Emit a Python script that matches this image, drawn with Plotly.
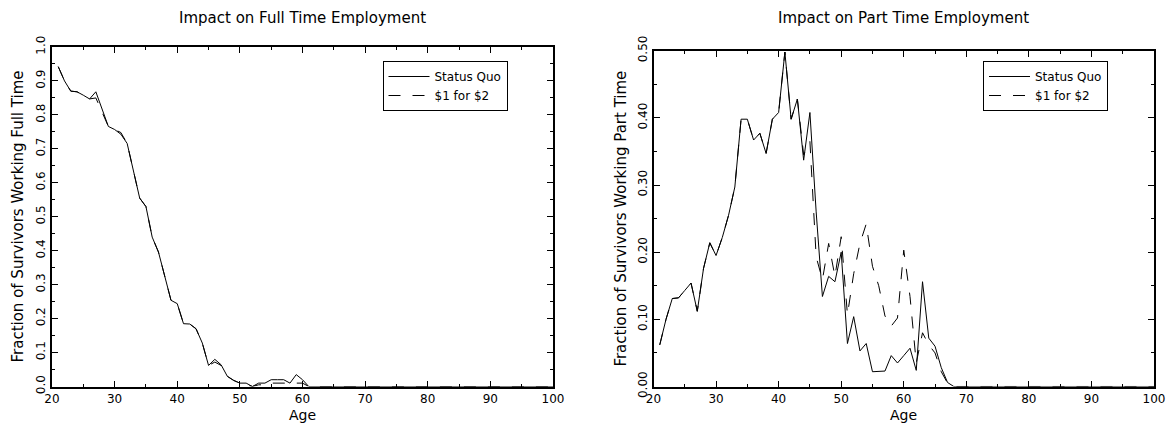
import plotly.graph_objects as go

ages = list(range(21, 101))

full_sq_head = [0.942, 0.900, 0.870, 0.868, 0.858, 0.847, 0.868, 0.815, 0.766, 0.757,
                0.743, 0.716, 0.636, 0.555, 0.530, 0.440, 0.396, 0.322, 0.254, 0.244,
                0.185, 0.184, 0.170, 0.128, 0.062, 0.080, 0.064, 0.030, 0.018, 0.010,
                0.010, 0.000, 0.010, 0.010, 0.020, 0.020, 0.020, 0.010, 0.035, 0.020,
                0.000]
full_alt_head = [0.942, 0.900, 0.870, 0.868, 0.858, 0.847, 0.850, 0.810, 0.766, 0.757,
                 0.748, 0.716, 0.636, 0.555, 0.530, 0.440, 0.396, 0.322, 0.254, 0.244,
                 0.185, 0.184, 0.170, 0.128, 0.062, 0.072, 0.062, 0.030, 0.018, 0.010,
                 0.005, 0.000, 0.005, 0.005, 0.010, 0.010, 0.010, 0.010, 0.010, 0.010,
                 0.000]
part_sq_head = [0.062, 0.100, 0.131, 0.132, 0.143, 0.154, 0.112, 0.176, 0.214, 0.195,
                0.222, 0.255, 0.297, 0.398, 0.398, 0.367, 0.377, 0.347, 0.398, 0.408,
                0.498, 0.398, 0.428, 0.337, 0.408, 0.260, 0.134, 0.164, 0.156, 0.200,
                0.064, 0.104, 0.053, 0.064, 0.022, 0.022, 0.023, 0.046, 0.035, 0.046,
                0.057, 0.024, 0.156, 0.072, 0.060, 0.028, 0.006, 0.000]
part_alt_head = [0.062, 0.100, 0.131, 0.132, 0.143, 0.154, 0.112, 0.176, 0.214, 0.195,
                 0.222, 0.255, 0.297, 0.398, 0.398, 0.367, 0.377, 0.347, 0.398, 0.408,
                 0.498, 0.398, 0.428, 0.345, 0.365, 0.193, 0.159, 0.213, 0.164, 0.223,
                 0.107, 0.168, 0.213, 0.242, 0.179, 0.150, 0.105, 0.090, 0.102, 0.203,
                 0.134, 0.035, 0.080, 0.062, 0.050, 0.022, 0.005, 0.000]

full_sq = full_sq_head + [0.0] * (len(ages) - len(full_sq_head))
full_alt = full_alt_head + [0.0] * (len(ages) - len(full_alt_head))
part_sq = part_sq_head + [0.0] * (len(ages) - len(part_sq_head))
part_alt = part_alt_head + [0.0] * (len(ages) - len(part_alt_head))

series_names = ["Status Quo", "$1 for $2"]
titles = ["Impact on Full Time Employment", "Impact on Part Time Employment"]
ytitles = ["Fraction of Survivors Working Full Time", "Fraction of Survivors Working Part Time"]
xtitle = "Age"

W, H = 1167, 430
FONT = "DejaVu Sans"
DASH = "12px,12px"

fig = go.Figure()
fig.add_trace(go.Scatter(x=ages, y=full_sq, mode="lines", name=series_names[0],
                         line=dict(color="black", width=1), xaxis="x", yaxis="y", legend="legend"))
fig.add_trace(go.Scatter(x=ages, y=full_alt, mode="lines", name=series_names[1],
                         line=dict(color="black", width=1, dash=DASH), xaxis="x", yaxis="y", legend="legend"))
fig.add_trace(go.Scatter(x=ages, y=part_sq, mode="lines", name=series_names[0],
                         line=dict(color="black", width=1), xaxis="x2", yaxis="y2", legend="legend2"))
fig.add_trace(go.Scatter(x=ages, y=part_alt, mode="lines", name=series_names[1],
                         line=dict(color="black", width=1, dash=DASH), xaxis="x2", yaxis="y2", legend="legend2"))

def px_x(p):
    return p / W

def px_y(p):
    return (H - p) / H

axis_common = dict(showgrid=False, zeroline=False, showline=True, linecolor="black", linewidth=2,
                   mirror="ticks", ticks="inside", ticklen=6, tickwidth=1, tickcolor="black",
                   tickfont=dict(family=FONT, size=12, color="black"), automargin=False)

xcommon = dict(axis_common, range=[20, 100], dtick=10, tick0=20,
               minor=dict(dtick=5, ticks="inside", ticklen=3, tickcolor="black", showgrid=False))

legend_common = dict(xanchor="left", yanchor="top", bordercolor="black", borderwidth=1,
                     bgcolor="white", itemwidth=41,
                     font=dict(family=FONT, size=12, color="black"))

fig.update_layout(
    width=W, height=H, margin=dict(l=0, r=0, t=0, b=0),
    paper_bgcolor="white", plot_bgcolor="white",
    font=dict(family=FONT, size=12, color="black"),
    xaxis=dict(xcommon, domain=[px_x(52), px_x(553)], anchor="y"),
    yaxis=dict(axis_common, domain=[px_y(386.5), px_y(47)], anchor="x", range=[0, 1.0],
               dtick=0.1, tickformat=".1f", tickangle=-90,
               minor=dict(dtick=0.05, ticks="inside", ticklen=3, tickcolor="black", showgrid=False)),
    xaxis2=dict(xcommon, domain=[px_x(653.5), px_x(1154)], anchor="y2"),
    yaxis2=dict(axis_common, domain=[px_y(386.5), px_y(50.7)], anchor="x2", range=[0, 0.5],
                dtick=0.1, tickformat=".2f", tickangle=-90,
                minor=dict(dtick=0.05, ticks="inside", ticklen=3, tickcolor="black", showgrid=False)),
    legend=dict(legend_common, x=px_x(382.5), y=px_y(61)),
    legend2=dict(legend_common, x=px_x(983), y=px_y(61)),
    showlegend=True,
)

ann = []
for cx, t in zip([302.5, 903.75], titles):
    ann.append(dict(text=t, x=px_x(cx), y=px_y(18), xref="paper", yref="paper",
                    showarrow=False, xanchor="center", yanchor="middle",
                    font=dict(family=FONT, size=15, color="black")))
    ann.append(dict(text=xtitle, x=px_x(cx), y=px_y(415), xref="paper", yref="paper",
                    showarrow=False, xanchor="center", yanchor="middle",
                    font=dict(family=FONT, size=14, color="black")))
for cx, cy, t in zip([18, 621], [216.5, 218.6], ytitles):
    ann.append(dict(text=t, x=px_x(cx), y=px_y(cy), xref="paper", yref="paper",
                    showarrow=False, xanchor="center", yanchor="middle", textangle=-90,
                    font=dict(family=FONT, size=15, color="black")))
fig.update_layout(annotations=ann)

fig.write_html("out.html")
